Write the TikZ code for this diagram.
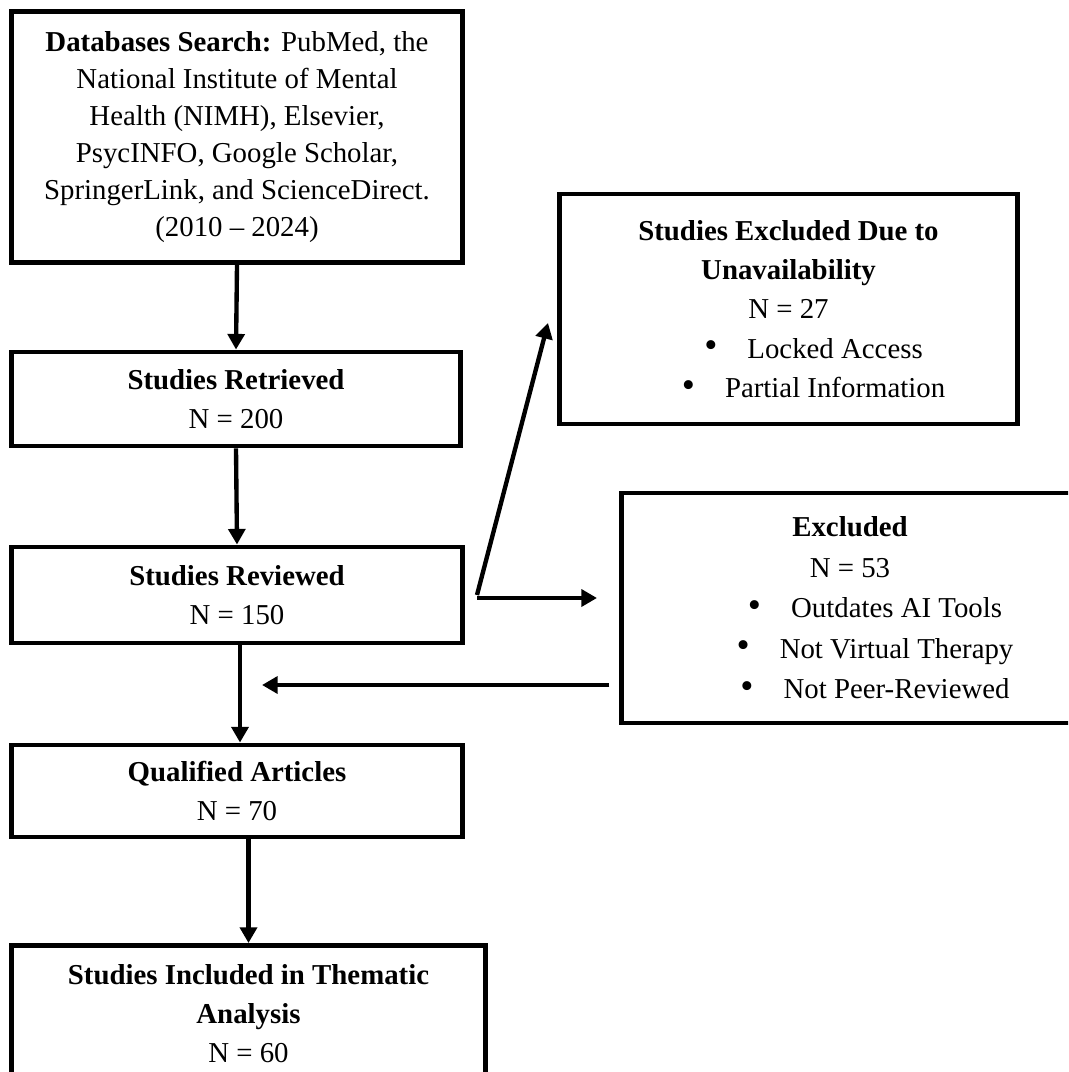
\documentclass[tikz,border=0pt]{standalone}
\usepackage{fontspec}
\setmainfont{Liberation Serif}
\usetikzlibrary{arrows.meta}
\usetikzlibrary{calc}
\newcommand{\bulletitem}{\hspace*{1.25cm}\raisebox{0.02em}{\scalebox{1.3}{\textbullet}}\hspace{0.75cm}}

\begin{document}
\begin{tikzpicture}[x = 0.025cm, y = -0.025cm,
    box/.style = {draw, line width = 3.5pt, align = center, inner sep = 0pt,
      font = \fontsize{20.5}{27.5}\selectfont},
    flow/.style = {line width = 3.1pt, -{Triangle[width = 0.42cm, length = 0.39cm]}}]
      \clip (0, 0) rectangle (1068, 1072);

      % main column
      \node[box, minimum width = 11.25cm, minimum height = 6.275cm,
        font = \fontsize{20.5}{26.2}\selectfont] (search) at (237, 137)
        {\textbf{Databases Search:} PubMed, the\\ National Institute of Mental\\
         Health (NIMH), Elsevier,\\ PsycINFO, Google Scholar,\\
         SpringerLink, and ScienceDirect.\\ (2010 -- 2024)};
      \node[box, minimum width = 11.2cm, minimum height = 2.35cm] (retrieved) at (236, 399)
        {\textbf{Studies Retrieved}\\ N = 200};
      \node[box, minimum width = 11.25cm, minimum height = 2.4cm] (reviewed) at (237, 595)
        {\textbf{Studies Reviewed}\\ N = 150};
      \node[box, minimum width = 11.25cm, minimum height = 2.3cm] (qualified) at (237, 791)
        {\textbf{Qualified Articles}\\ N = 70};
      \node[box, anchor = north, minimum width = 11.825cm, minimum height = 3.4cm] (included) at (248.5, 943)
        {\textbf{Studies Included in Thematic}\\ \textbf{Analysis}\\ N = 60};

      % exclusions
      \node[box, minimum width = 11.425cm, minimum height = 5.75cm,
        font = \fontsize{20.5}{28}\selectfont] (unavail) at (788.5, 309)
        {\textbf{Studies Excluded Due to}\\ \textbf{Unavailability}\\ N = 27\\
         \bulletitem Locked Access\\
         \bulletitem Partial Information};
      \node[box, minimum width = 11.4cm, minimum height = 5.75cm,
        font = \fontsize{20.5}{28.8}\selectfont] (excluded) at (850, 608)
        {\textbf{Excluded}\\ N = 53\\
         \bulletitem Outdates AI Tools\\
         \bulletitem Not Virtual Therapy\\
         \bulletitem Not Peer-Reviewed};

      \coordinate (fork) at (477, 595);
      \coordinate (uptip) at (548, 323);
      \coordinate (righttip) at (597, 598);
      \coordinate (backtip) at (262, 685);

      \draw[flow] (search.south) -- (retrieved.north);
      \draw[flow] (retrieved.south) -- (reviewed.north);
      \draw[flow] ([xshift = 0.075cm]reviewed.south) -- ([xshift = 0.075cm]qualified.north);
      \draw[flow] (qualified.south -| included.north) -- (included.north);

      \draw[flow] (fork) -- (uptip);
      \draw[flow] (fork |- righttip) -- (righttip);
      \draw[flow] ([xshift = -0.25cm]excluded.west |- backtip) -- (backtip);
\end{tikzpicture}
\end{document}
